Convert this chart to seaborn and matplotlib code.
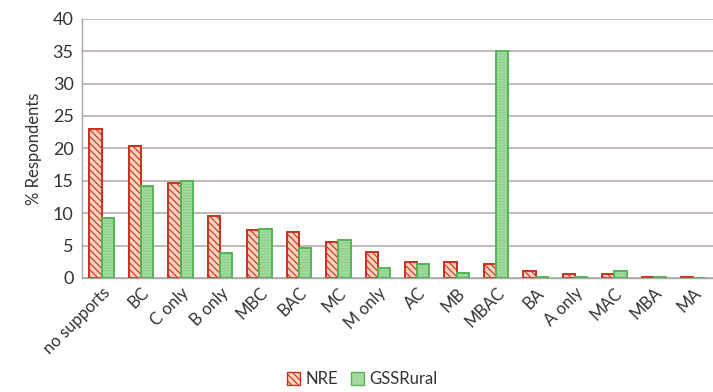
import pandas as pd
import matplotlib
matplotlib.use("Agg")
import matplotlib.pyplot as plt
import matplotlib.colors as mcolors
import seaborn as sns
from matplotlib.ticker import FixedLocator
import matplotlib.patches as patches

# data
categories = ["no supports", "BC", "C only", "B only", "MBC", "BAC", "MC", "M only",
              "AC", "MB", "MBAC", "BA", "A only", "MAC", "MBA", "MA"]
nre = [23.0, 20.3, 14.7, 9.5, 7.4, 7.1, 5.6, 4.0, 2.5, 2.4, 2.2, 1.1, 0.6, 0.6, 0.1, 0.1]
gss_rural = [9.3, 14.2, 15.0, 3.9, 7.6, 4.6, 5.8, 1.5, 2.2, 0.8, 35.0, 0.1, 0.1, 1.0, 0.1, 0.0]
series = ["NRE", "GSSRural"]

COLOR_NRE_FILL = "#F8D3BE"
COLOR_NRE_EDGE = "#C8321E"
COLOR_GSS_FILL = "#A4DBA0"
COLOR_GSS_EDGE = "#55B357"
COLOR_GSS_HATCH = "#8ACF88"
NRE_HATCH = "\\\\\\\\\\"
GSS_HATCH = "------"

df = pd.DataFrame({
    "Category": categories * 2,
    "Series": [series[0]] * len(categories) + [series[1]] * len(categories),
    "Value": nre + gss_rural,
})

sns.set_style("white")
plt.rcParams["font.family"] = ["Lato", "DejaVu Sans"]
plt.rcParams["hatch.linewidth"] = 0.8

fig = plt.figure(figsize=(7.13, 3.92), dpi=100)
ax = fig.add_axes([0.115, 0.291, 0.885, 0.661])

sns.barplot(data=df, x="Category", y="Value", hue="Series", order=categories,
            hue_order=series, palette=[COLOR_NRE_FILL, COLOR_GSS_FILL],
            width=0.62, ax=ax, legend=False, saturation=1)

n = len(categories)
for i, bar in enumerate(ax.patches[:2 * n]):
    if i < n:
        bar.set_edgecolor(COLOR_NRE_EDGE)
        bar.set_hatch(NRE_HATCH)
    else:
        bar.set_edgecolor(COLOR_GSS_EDGE)
        bar.set_hatch(GSS_HATCH)
        bar._hatch_color = mcolors.to_rgba(COLOR_GSS_HATCH)
    bar.set_linewidth(1.4)

ax.set_ylim(0, 40)
ax.set_xlim(-0.5, n - 0.5)
ax.set_yticks(range(0, 41, 5))
ax.yaxis.grid(True, color="#B8ADA8", linewidth=1.2)
ax.set_axisbelow(True)

for s in ["top", "right"]:
    ax.spines[s].set_visible(False)
for s in ["left", "bottom"]:
    ax.spines[s].set_color("#A8A8A8")
    ax.spines[s].set_linewidth(1.0)

ax.xaxis.set_minor_locator(FixedLocator([k + 0.5 for k in range(-1, n)]))
ax.tick_params(axis="x", which="major", length=0, pad=5)
ax.tick_params(axis="x", which="minor", length=5, color="#A8A8A8", direction="out")
ax.tick_params(axis="y", length=0, labelsize=13, colors="#333333", pad=6)
ax.set_xticks(range(n))
ax.set_xticklabels(categories, rotation=45, ha="right", rotation_mode="anchor",
                   fontsize=12, color="#333333")

ax.set_xlabel("")
ax.set_ylabel("% Respondents", fontsize=12, color="#333333", labelpad=8)

handles = [
    patches.Patch(facecolor=COLOR_NRE_FILL, edgecolor=COLOR_NRE_EDGE, hatch=NRE_HATCH, label="NRE"),
    patches.Patch(facecolor=COLOR_GSS_FILL, edgecolor=COLOR_GSS_EDGE, label="GSSRural"),
]
fig.legend(handles=handles, loc="center", bbox_to_anchor=(0.508, 0.033), ncol=2,
           frameon=False, fontsize=12, handlelength=0.8, handleheight=0.8,
           handletextpad=0.3, columnspacing=0.8, labelcolor="#333333")

fig.savefig("out.png", dpi=100)
